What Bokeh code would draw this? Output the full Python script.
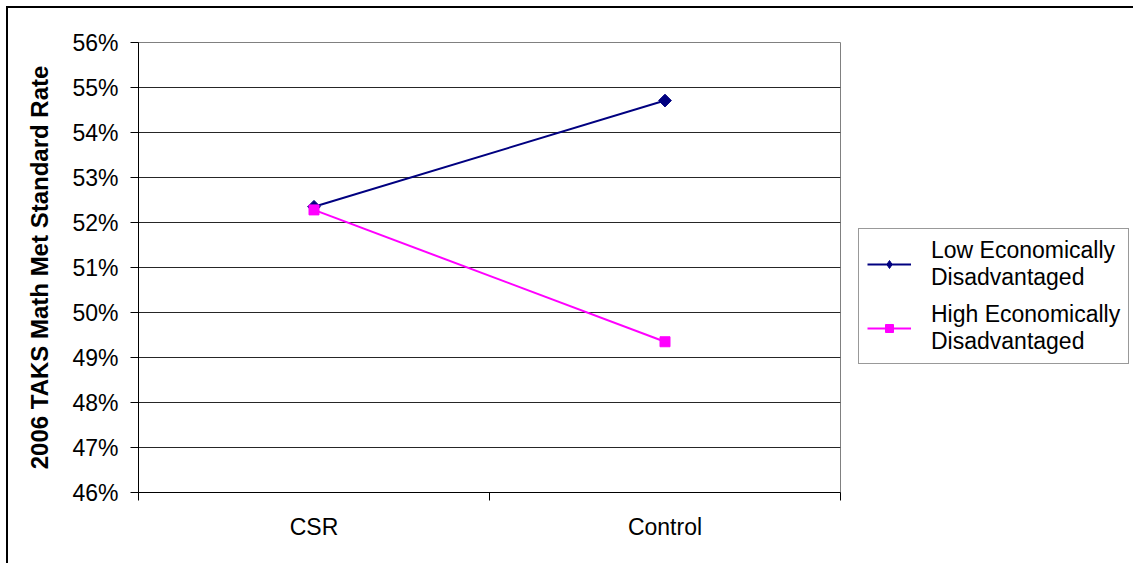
from bokeh.plotting import figure
from bokeh.models import (ColumnDataSource, Legend, LegendItem, LinearAxis,
                          Range1d, FixedTicker, PrintfTickFormatter)
from bokeh.embed import file_html
from bokeh.resources import INLINE
import math

categories = ["CSR", "Control"]
low_econ = [52.35, 54.71]
high_econ = [52.28, 49.35]
y_ticks = [46, 47, 48, 49, 50, 51, 52, 53, 54, 55, 56]
series_names = ["Low Economically\nDisadvantaged", "High Economically\nDisadvantaged"]
y_title = "2006 TAKS Math Met Standard Rate"

FONT = "Liberation Sans"

n = len(categories)
xpos = [i + 0.5 for i in range(n)]

p = figure(frame_width=702, frame_height=450, x_range=Range1d(0, n), y_range=Range1d(46, 56),
           output_backend="svg", toolbar_location=None, x_axis_location=None,
           min_border_left=130, min_border_top=34, min_border_right=0, min_border_bottom=71)
p.styles = {"margin-left": "6px", "margin-top": "6px",
            "border-left": "2px solid black", "border-top": "2px solid black"}
p.background_fill_color = "white"
p.border_fill_color = "white"
p.outline_line_color = "#808080"
p.outline_line_width = 1

# y axis
ya = p.yaxis[0]
ya.ticker = FixedTicker(ticks=y_ticks)
ya.formatter = PrintfTickFormatter(format="%d%%")
ya.major_tick_out = 8
ya.major_tick_in = 0
ya.minor_tick_line_color = None
ya.major_label_standoff = 12
ya.major_label_text_font = FONT
ya.major_label_text_font_size = "23px"
ya.major_label_text_color = "black"
ya.axis_line_color = "black"
ya.major_tick_line_color = "black"
ya.axis_label = y_title
ya.axis_label_text_font = FONT
ya.axis_label_text_font_style = "bold"
ya.axis_label_text_font_size = "24px"
ya.axis_label_standoff = 16
ya.axis_label_text_color = "black"

p.ygrid.ticker = FixedTicker(ticks=y_ticks)
p.ygrid.grid_line_color = "black"
p.ygrid.grid_line_alpha = 0.85
p.xgrid.grid_line_color = None

# tick-only axis at category boundaries
tick_axis = LinearAxis(ticker=FixedTicker(ticks=list(range(n + 1))),
                       major_tick_out=8, major_tick_in=0, minor_tick_line_color=None,
                       major_label_text_font_size="1px", major_label_text_color=None,
                       major_label_standoff=0, axis_line_color="black", major_tick_line_color="black")
p.add_layout(tick_axis, "below")

cat_axis = LinearAxis(ticker=FixedTicker(ticks=xpos),
                      major_label_overrides={x: c for x, c in zip(xpos, categories)},
                      axis_line_color=None, major_tick_line_color=None, minor_tick_line_color=None,
                      major_tick_out=0, major_tick_in=0,
                      major_label_text_font=FONT, major_label_text_font_size="23px",
                      major_label_text_color="black", major_label_standoff=13)
p.add_layout(cat_axis, "below")

src = ColumnDataSource(dict(x=xpos, cat=categories, low=low_econ, high=high_econ))
l1 = p.line("x", "low", source=src, line_color="#000080", line_width=2)
m1 = p.scatter("x", "low", source=src, marker="square", size=9, angle=math.pi / 4,
               fill_color="#000080", line_color="#000080")
l2 = p.line("x", "high", source=src, line_color="#FF00FF", line_width=2)
m2 = p.scatter("x", "high", source=src, marker="square", size=10, fill_color="#FF00FF",
               line_color="#FF00FF")

# legend-only diamond glyph: same data, mapped through a range that keeps it outside the frame
p.extra_y_ranges = {"legend_only": Range1d(0, 1)}
m1_leg = p.scatter("x", "low", source=src, marker="diamond", size=14, y_range_name="legend_only",
                   fill_color="#000080", line_color="#000080")

legend = Legend(items=[LegendItem(label=series_names[0], renderers=[l1, m1_leg]),
                       LegendItem(label=series_names[1], renderers=[l2, m2])],
                location=(18, 128), orientation="vertical",
                label_text_font=FONT, label_text_font_size="23px", label_text_color="black",
                glyph_width=44, label_standoff=20, padding=8, spacing=10, margin=0,
                border_line_color="#333333", border_line_width=1,
                background_fill_color="white", background_fill_alpha=1.0)
p.add_layout(legend, "right")

open("out.html", "w").write(file_html(p, INLINE))
